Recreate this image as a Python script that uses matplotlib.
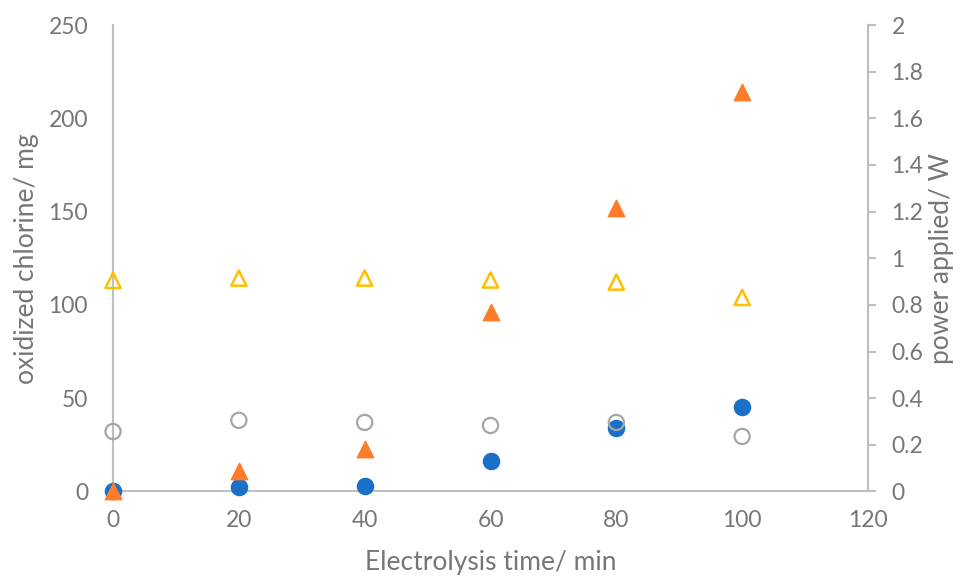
import matplotlib.pyplot as plt

plt.rcParams['font.family'] = ['Lato', 'DejaVu Sans']

time_min = [0, 20, 40, 60, 80, 100]

# left axis: oxidized chlorine (mg)
chlorine_a = [0.5, 2.6, 3.1, 16.4, 34.2, 45.2]
chlorine_b = [0, 11.2, 22.8, 96, 152, 214]

# right axis: power applied (W)
power_a = [0.257, 0.305, 0.296, 0.283, 0.296, 0.236]
power_b = [0.905, 0.915, 0.915, 0.907, 0.898, 0.832]

text_col = '#767676'
axis_col = '#bfbfbf'

fig = plt.figure(figsize=(9.67, 5.78), dpi=100)
ax = fig.add_axes([0.1169, 0.1497, 0.7807, 0.807])
ax2 = ax.twinx()

ax.scatter(time_min, chlorine_a, s=135, marker='o', color='#1a70c8', zorder=3, clip_on=False)
ax.scatter(time_min, chlorine_b, s=140, marker='^', color='#ff7c2a', zorder=4, clip_on=False)
ax2.scatter(time_min, power_a, s=120, marker='o', facecolors='none', edgecolors='#a6a6a6',
            linewidths=1.6, zorder=3, clip_on=False)
ax2.scatter(time_min, power_b, s=120, marker='^', facecolors='none', edgecolors='#ffc000',
            linewidths=1.8, zorder=4, clip_on=False)

ax.set_xlim(0, 120)
ax.set_ylim(0, 250)
ax2.set_ylim(0, 2)
ax.set_xticks(range(0, 121, 20))
ax.set_yticks(range(0, 251, 50))
ax2.set_yticks([i / 5 for i in range(11)])
ax2.set_yticklabels(['0', '0.2', '0.4', '0.6', '0.8', '1', '1.2', '1.4', '1.6', '1.8', '2'])

for a in (ax, ax2):
    for s in a.spines.values():
        s.set_visible(False)
ax.spines['left'].set_visible(True)
ax.spines['bottom'].set_visible(True)
ax2.spines['right'].set_visible(True)
for s in (ax.spines['left'], ax.spines['bottom'], ax2.spines['right']):
    s.set_color(axis_col)
    s.set_linewidth(1.5)
    s.set_zorder(2)

ax.tick_params(axis='x', length=0, pad=13, labelsize=16.5, labelcolor=text_col)
ax.tick_params(axis='y', length=0, pad=18, labelsize=16.5, labelcolor=text_col)
ax2.tick_params(axis='y', length=6, width=1.5, color=axis_col, pad=11,
                labelsize=16.5, labelcolor=text_col)

ax.set_xlabel('Electrolysis time/ min', fontsize=19, color=text_col, labelpad=14)
ax.set_ylabel('oxidized chlorine/ mg', fontsize=19, color=text_col, labelpad=7)
ax2.set_ylabel('power applied/ W', fontsize=19, color=text_col, labelpad=4)

fig.savefig('out.png', dpi=100)
